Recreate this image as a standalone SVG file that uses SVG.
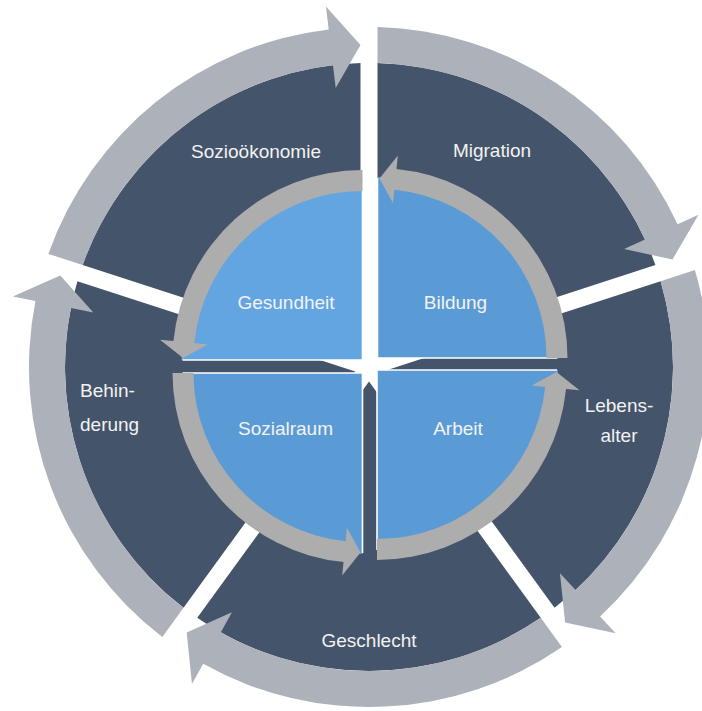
<svg xmlns="http://www.w3.org/2000/svg" width="702" height="711" viewBox="0 0 702 711">
<style>
.dark{fill:#44546A}
.oarrow{fill:#ADB1B9}
.iarrow{fill:#ADADAD}
.q1{fill:#62A5E1}
.q{fill:#5B9BD5}
.edge{fill:none;stroke:#FFFFFF;stroke-width:1.6}
.lbl{font-family:"Liberation Sans",Arial,sans-serif;font-size:19px;fill:#F2F2F2;text-anchor:middle}
.lbls{font-family:"Liberation Sans",Arial,sans-serif;font-size:19px;fill:#F2F2F2;text-anchor:start}
</style>
<defs>
<path id="wedge" d="M 8.5 -11.7 L 8.5 -303.88 A 304 304 0 0 1 286.38 -101.99 Z"/>
<path id="oarr" d="M 8.5 -339.89 A 340 340 0 0 1 308.62 -142.67 L 329.5 -152.32 L 303.5 -107.55 L 255.07 -117.91 L 275.94 -127.56 A 304 304 0 0 0 8.5 -303.88 Z"/>
<path id="quad" d="M 0 0 L 0 -181 A 181 181 0 0 0 -181 0 Z"/>
<path id="qedge" d="M 0 -180 L 0 0 L -180 0"/>
<path id="iarr" d="M 0 -190 A 190 190 0 0 0 -189.05 -19.0 L -202.48 -20.35 L -179.49 -2.0 L -154.72 -15.55 L -168.15 -16.9 A 169 169 0 0 1 0 -169 Z"/>
</defs>
<rect width="702" height="711" fill="#FFFFFF"/>
<g id="migration">
<use href="#wedge" class="dark" transform="translate(369 367)"/>
<text class="lbl" x="492" y="157">Migration</text>
</g>
<g id="lebensalter">
<use href="#wedge" class="dark" transform="translate(369 367) rotate(72)"/>
<text class="lbl" x="619" y="412">Lebens-</text>
<text class="lbl" x="619" y="442">alter</text>
</g>
<g id="geschlecht">
<use href="#wedge" class="dark" transform="translate(369 367) rotate(144)"/>
<text class="lbl" x="369" y="647">Geschlecht</text>
</g>
<g id="behinderung">
<use href="#wedge" class="dark" transform="translate(369 367) rotate(216)"/>
<text class="lbls" x="80" y="397">Behin-</text>
<text class="lbls" x="80" y="431">derung</text>
</g>
<g id="soziooekonomie">
<use href="#wedge" class="dark" transform="translate(369 367) rotate(288)"/>
<text class="lbl" x="256" y="158">Sozioökonomie</text>
</g>
<g id="gesundheit">
<g transform="translate(362.5 360)">
<use href="#quad" class="q1"/>
<use href="#qedge" class="edge"/>
</g>
<text class="lbl" x="286" y="309">Gesundheit</text>
</g>
<g id="bildung">
<g transform="translate(377.5 358) rotate(90)">
<use href="#quad" class="q"/>
<use href="#qedge" class="edge"/>
</g>
<text class="lbl" x="455.5" y="309">Bildung</text>
</g>
<g id="arbeit">
<g transform="translate(377 370) rotate(180)">
<use href="#quad" class="q"/>
<use href="#qedge" class="edge"/>
</g>
<text class="lbl" x="458" y="435">Arbeit</text>
</g>
<g id="sozialraum">
<g transform="translate(362.5 373) rotate(270)">
<use href="#quad" class="q"/>
<use href="#qedge" class="edge"/>
</g>
<text class="lbl" x="285.5" y="435">Sozialraum</text>
</g>
<g id="connectors">
<use href="#oarr" class="oarrow" transform="translate(369 367)"/>
<use href="#oarr" class="oarrow" transform="translate(369 367) rotate(72)"/>
<use href="#oarr" class="oarrow" transform="translate(369 367) rotate(144)"/>
<use href="#oarr" class="oarrow" transform="translate(369 367) rotate(216)"/>
<use href="#oarr" class="oarrow" transform="translate(369 367) rotate(288)"/>
<use href="#iarr" class="iarrow" transform="translate(362.5 360)"/>
<use href="#iarr" class="iarrow" transform="translate(377.5 358) rotate(90)"/>
<use href="#iarr" class="iarrow" transform="translate(377 370) rotate(180)"/>
<use href="#iarr" class="iarrow" transform="translate(362.5 373) rotate(270)"/>
</g>
</svg>
